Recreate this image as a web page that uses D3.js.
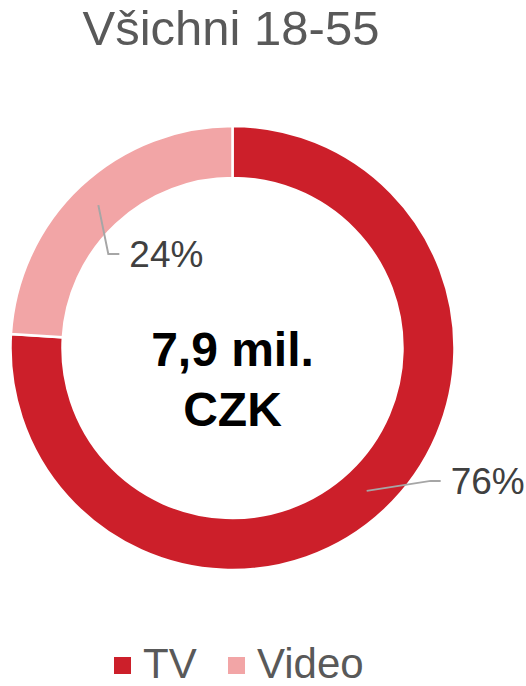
<!DOCTYPE html>
<html><head><meta charset="utf-8">
<script src="https://cdn.jsdelivr.net/npm/d3@7"></script>
<style>
html,body{margin:0;padding:0;background:#fff;}
svg{display:block;}
text{font-family:"Liberation Sans",Arial,sans-serif;}
</style></head>
<body>
<svg id="chart" width="526" height="686"></svg>
<script>
const title = "Všichni 18-55";
const categories = ["TV", "Video"];
const values = [76, 24];
const valueLabels = ["76%", "24%"];
const centerLines = ["7,9 mil.", "CZK"];
const colors = ["#CC1F2A", "#F2A5A6"];

const svg = d3.select("#chart");
const cx = 232.5, cy = 348, R = 222, r = 170;

svg.append("text").attr("x", 231).attr("y", 45).attr("text-anchor", "middle")
  .attr("font-size", 49).attr("fill", "#595959").text(title);

const pie = d3.pie().sort(null).value(d => d)(values);
const arc = d3.arc().innerRadius(r).outerRadius(R);
const g = svg.append("g").attr("transform", `translate(${cx},${cy})`);
g.selectAll("path").data(pie).join("path")
  .attr("d", arc).attr("fill", (d, i) => colors[i])
  .attr("stroke", "#fff").attr("stroke-width", 2.5).attr("stroke-linejoin", "miter");

const labelLayout = [
  {bend: [64, -10], end: [74, -10], text: [84, 3], anchor: "start"},
  {bend: [10, 49], end: [21, 49], text: [31, 62], anchor: "start"}
];
pie.forEach((d, i) => {
  const [x0, y0] = arc.centroid(d);
  const L = labelLayout[i];
  g.append("path")
    .attr("d", `M${x0},${y0}L${x0 + L.bend[0]},${y0 + L.bend[1]}L${x0 + L.end[0]},${y0 + L.end[1]}`)
    .attr("fill", "none").attr("stroke", "#A6A6A6").attr("stroke-width", 2);
  g.append("text").attr("x", x0 + L.text[0]).attr("y", y0 + L.text[1])
    .attr("text-anchor", L.anchor).attr("font-size", 37).attr("fill", "#404040")
    .text(valueLabels[i]);
});

g.selectAll("text.center").data(centerLines).join("text").attr("class", "center")
  .attr("x", 0).attr("y", (d, i) => 18 + i * 60).attr("text-anchor", "middle")
  .attr("font-size", 48).attr("font-weight", "bold").attr("fill", "#000").text(d => d);

const legendX = [114, 228];
const lg = svg.append("g");
categories.forEach((c, i) => {
  lg.append("rect").attr("x", legendX[i]).attr("y", 657).attr("width", 17).attr("height", 17)
    .attr("fill", colors[i]);
  lg.append("text").attr("x", legendX[i] + 29).attr("y", 678).attr("font-size", 42)
    .attr("fill", "#595959").text(c);
});
</script>
</body></html>
